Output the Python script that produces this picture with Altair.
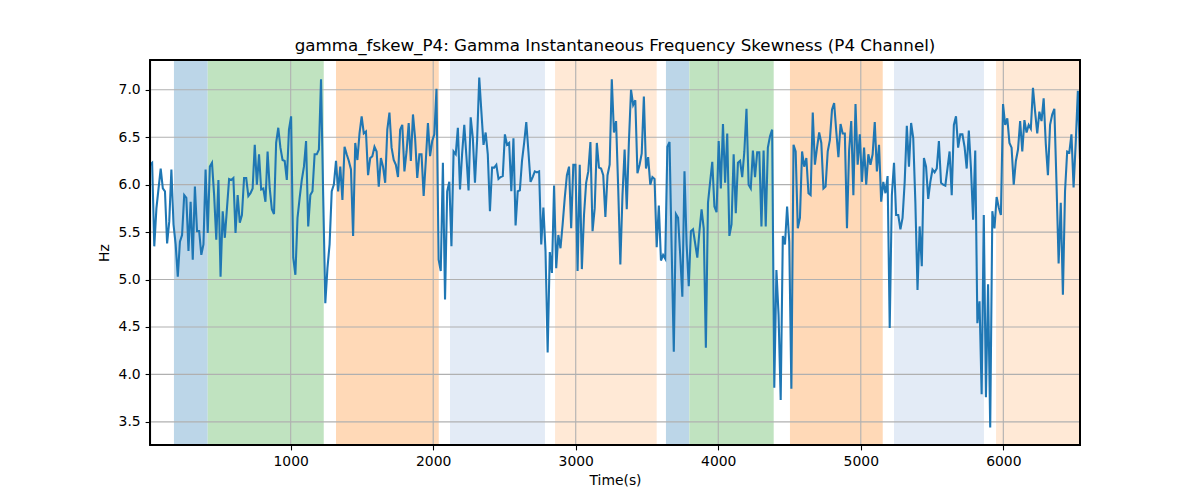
import altair as alt
import pandas as pd

# ---- data ----
hz_values = [
    6.21, 6.23, 5.35, 5.75, 5.96, 6.17, 5.96, 5.93, 5.38, 5.61, 6.16, 5.58, 5.37, 5.03, 5.40, 5.47,
    5.89, 5.86, 5.30, 5.82, 5.21, 5.98, 5.51, 5.51, 5.26, 5.37, 6.16, 5.49, 6.19, 6.23, 5.89, 5.42,
    6.05, 5.03, 5.72, 5.44, 5.75, 6.06, 6.05, 6.07, 5.49, 5.89, 5.60, 5.68, 6.07, 6.07, 5.88, 5.91,
    5.96, 6.42, 6.00, 6.32, 5.95, 5.96, 5.82, 6.35,
    5.96, 5.74, 5.69, 6.44, 6.60, 6.39, 6.26, 6.25, 6.05, 6.58, 6.72, 5.23, 5.05, 5.65, 5.86, 6.05,
    6.19, 6.46, 5.56, 5.89, 5.93, 6.32, 6.32, 6.37, 7.11, 5.89, 4.75, 5.12, 5.37, 5.93, 6.00, 6.25,
    5.93, 6.19, 5.84, 6.40, 6.32, 6.25, 6.16, 5.46, 6.44, 6.26, 6.54, 6.72, 6.54, 6.56, 6.10, 6.28,
    6.30, 6.40, 6.35, 5.98, 6.28, 6.19, 6.02, 6.58, 6.76,
    6.39, 6.26, 6.21, 6.08, 6.58, 6.63, 6.14, 6.35, 6.65, 6.25, 6.74, 6.49, 6.07, 6.32, 6.32, 5.88,
    6.25, 6.65, 6.30, 6.46, 6.53, 7.01, 5.21, 5.09, 6.23, 4.79, 5.93, 6.03, 5.35, 6.35, 6.32, 6.60,
    5.95, 6.33, 6.63, 6.30, 5.94, 6.71, 6.49, 6.02, 6.47, 7.13, 6.77, 6.42, 6.55, 6.32, 5.72, 6.18,
    6.18, 6.21, 6.06, 6.08, 6.09, 6.53, 6.42, 6.44,
    5.93, 6.49, 5.57, 5.93, 5.94, 6.25, 6.44, 6.66, 6.35, 6.03, 6.08, 6.14, 6.13, 6.14, 5.37, 5.76,
    5.30, 4.23, 5.29, 5.07, 5.99, 5.12, 5.47, 5.33, 5.58, 5.86, 6.10, 6.19, 5.54, 6.21, 6.21, 5.09,
    6.21, 5.11, 5.68, 6.02, 6.14, 6.45, 5.51, 5.75, 6.44, 6.18, 6.17, 6.10, 5.66, 6.10, 6.21, 7.11,
    6.55, 6.67, 5.96, 5.16,
    5.89, 6.37, 5.74, 6.45, 7.00, 6.84, 6.89, 6.12, 6.21, 6.33, 6.93, 6.17, 6.29, 6.00, 6.08, 6.06,
    5.34, 5.78, 5.20, 5.26, 5.22, 6.40, 6.45, 5.33, 4.24, 5.69, 5.65, 5.26, 4.82, 6.14, 5.37, 4.93,
    5.51, 5.53, 5.38, 5.23, 5.51, 5.74, 5.54, 4.28, 5.81, 6.03, 6.24, 5.77, 5.71, 6.46, 5.96, 6.64,
    6.02, 6.54, 5.46, 5.58, 6.32, 5.70, 6.23, 6.25, 6.08, 6.35, 6.80, 6.00,
    5.96, 6.36, 6.08, 6.34, 6.34, 5.56, 6.36, 5.56, 6.39, 6.51, 6.58, 3.86, 5.10, 4.63, 3.73, 5.46,
    5.37, 5.77, 5.40, 3.85, 6.42, 6.35, 5.54, 5.65, 6.35, 6.19, 6.28, 5.91, 5.89, 6.76, 6.21, 6.39,
    6.55, 6.44, 5.96, 5.98, 6.35, 6.47, 6.79, 6.86, 6.56, 6.29, 6.64, 6.54, 6.54, 5.54, 6.36, 6.67,
    5.89, 6.85, 6.21, 6.53, 6.03, 6.39, 6.00, 6.32,
    6.21, 6.32, 6.66, 6.14, 6.42, 5.82, 6.03, 5.91, 6.09, 4.49, 5.89, 6.23, 5.68, 5.68, 5.53, 5.65,
    6.03, 6.62, 6.19, 6.65, 6.49, 5.81, 4.89, 5.56, 5.14, 6.28, 6.19, 5.85, 6.03, 6.16, 6.13, 6.17,
    6.46, 6.02, 6.00, 5.99, 6.17, 6.35, 5.89, 6.63, 6.72, 6.39, 6.53, 6.53, 6.40, 6.17, 6.57, 6.17,
    5.63, 6.36, 4.54, 4.77, 3.79, 5.68, 3.76, 4.95,
    3.44, 5.72, 5.54, 5.87, 5.76, 5.68, 6.85, 6.63, 6.70, 6.44, 6.39, 6.00, 6.25, 6.37, 6.67, 6.35,
    6.68, 6.55, 6.63, 6.59, 7.02, 6.77, 6.54, 6.77, 6.67, 6.91, 6.43, 6.10, 6.63, 6.74, 6.80, 6.02,
    5.17, 5.81, 4.84, 5.93, 6.35, 6.34, 6.53, 5.97, 6.44, 6.99, 6.27,
]
t_start = 13
t_step = 15
time_s = [t_start + t_step * i for i in range(len(hz_values))]

span_start = [181, 418, 1318, 2118, 2855, 3633, 3797, 4503, 5233, 5949]
span_end = [418, 1232, 2039, 2784, 3568, 3797, 4389, 5154, 5864, 6538]
span_kind = ["k1", "k2", "k3", "k4", "k5", "k1", "k2", "k3", "k4", "k5"]

x_ticks = [1000, 2000, 3000, 4000, 5000, 6000]
y_ticks = [3.5, 4.0, 4.5, 5.0, 5.5, 6.0, 6.5, 7.0]

x_domain = [13, 6538]
y_domain = [3.256, 7.314]

# ---- frames ----
line_df = pd.DataFrame({"time_s": time_s, "hz": hz_values})
span_df = pd.DataFrame({"start": span_start, "end": span_end, "kind": span_kind})
xg_df = pd.DataFrame({"t": x_ticks})
yg_df = pd.DataFrame({"v": y_ticks})

FONT = "DejaVu Sans"
W, H = 930, 385
xscale = alt.Scale(domain=x_domain, nice=False, zero=False)
yscale = alt.Scale(domain=y_domain, nice=False, zero=False)

x_axis = alt.Axis(values=x_ticks, format="d", title="Time(s)", grid=False,
                  tickSize=4.9, tickWidth=1.1, labelPadding=4.9, titlePadding=5)
y_axis = alt.Axis(values=y_ticks, format=".1f", title="Hz", grid=False,
                  tickSize=4.9, tickWidth=1.1, labelPadding=4.9, titlePadding=7)

spans = alt.Chart(span_df).mark_rect().encode(
    x=alt.X("start:Q", scale=xscale, axis=x_axis),
    x2="end:Q",
    color=alt.Color("kind:N", legend=None,
                    scale=alt.Scale(domain=["k1", "k2", "k3", "k4", "k5"],
                                    range=["#bcd6e8", "#c0e3c0", "#ffd9b7", "#e3ebf6", "#ffe9d6"])),
)

xgrid = alt.Chart(xg_df).mark_rule(color="#b0b0b0", strokeWidth=1.1).encode(
    x=alt.X("t:Q", scale=xscale, axis=x_axis)
)
ygrid = alt.Chart(yg_df).mark_rule(color="#b0b0b0", strokeWidth=1.1).encode(
    y=alt.Y("v:Q", scale=yscale, axis=y_axis)
)

line = alt.Chart(line_df).mark_line(color="#1f77b4", strokeWidth=2.08).encode(
    x=alt.X("time_s:Q", scale=xscale, axis=x_axis),
    y=alt.Y("hz:Q", scale=yscale, axis=y_axis),
)

frame = alt.Chart(yg_df).mark_rect(fillOpacity=0, stroke="black", strokeWidth=1.1).encode(
    x=alt.value(0), x2=alt.value(W), y=alt.value(0), y2=alt.value(H)
)

chart = alt.layer(spans, xgrid, ygrid, line, frame).properties(
    width=W,
    height=H,
    padding={"left": 142, "top": 52, "right": 100, "bottom": 46},
    autosize=alt.AutoSizeParams(type="none"),
    title=alt.TitleParams(
        "gamma_fskew_P4: Gamma Instantaneous Frequency Skewness (P4 Channel)",
        font=FONT, fontSize=16.7, fontWeight="normal", color="black",
        anchor="middle", baseline="alphabetic", offset=-8,
    ),
).configure_view(
    stroke="black", strokeWidth=1.1
).configure_axis(
    labelFont=FONT, labelFontSize=13.9, labelColor="black",
    titleFont=FONT, titleFontSize=13.9, titleFontWeight="normal", titleColor="black",
    domainColor="black", domainWidth=1.1, tickColor="black",
)

chart.save("out.html", embed_options={"renderer": "svg", "actions": False})
